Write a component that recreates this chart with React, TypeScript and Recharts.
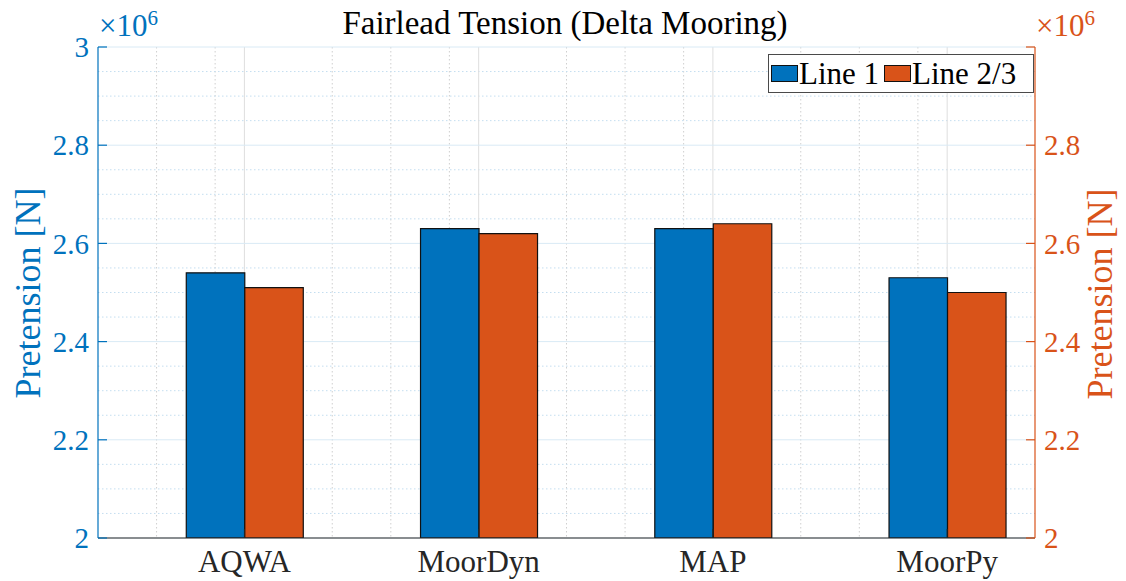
import React from 'react';
import { ComposedChart, Bar, XAxis, YAxis, CartesianGrid } from 'recharts';

const categories = ['AQWA', 'MoorDyn', 'MAP', 'MoorPy'];
const line1 = [2.54e6, 2.63e6, 2.63e6, 2.53e6];
const line23 = [2.51e6, 2.62e6, 2.64e6, 2.5e6];
const yTicks = [2.0e6, 2.2e6, 2.4e6, 2.6e6, 2.8e6, 3.0e6];
const rightTickLabels = [2.0e6, 2.2e6, 2.4e6, 2.6e6, 2.8e6];
const xTicks = [1, 2, 3, 4];
const xMinor = [0.625, 0.875, 1.375, 1.625, 1.875, 2.375, 2.625, 2.875, 3.375, 3.625, 3.875];
const yMinor = [2.05, 2.1, 2.15, 2.25, 2.3, 2.35, 2.45, 2.5, 2.55, 2.65, 2.7, 2.75, 2.85, 2.9, 2.95].map((v) => v * 1e6);

const data = categories.map((name, i) => ({ x: i + 1, name, line1: line1[i], line23: line23[i] }));

const BLUE = '#0072BD';
const ORANGE = '#D95319';
const DARK = '#262626';
const FONT = '"Liberation Serif", "Times New Roman", serif';
const W = 1126;
const H = 581;

const fmt = (v: number) => String(parseFloat((v / 1e6).toFixed(1)));

const LeftTick = (p: any) => {
  const { x, y, payload } = p;
  return (
    <g>
      <line x1={x} x2={x + 9} y1={y} y2={y} stroke={BLUE} strokeWidth={1.2} />
      <text x={x - 9} y={y} dy="0.35em" textAnchor="end" fill={BLUE} fontSize={29} fontFamily={FONT}>
        {fmt(payload.value)}
      </text>
    </g>
  );
};

const RightTick = (p: any) => {
  const { x, y, payload } = p;
  const show = rightTickLabels.includes(payload.value);
  return (
    <g>
      <line x1={x - 9} x2={x} y1={y} y2={y} stroke={ORANGE} strokeWidth={1.2} />
      {show && (
        <text x={x + 9} y={y} dy="0.35em" textAnchor="start" fill={ORANGE} fontSize={29} fontFamily={FONT}>
          {fmt(payload.value)}
        </text>
      )}
    </g>
  );
};

const BottomTick = (p: any) => {
  const { x, y, payload } = p;
  return (
    <g>
      <line x1={x} x2={x} y1={y} y2={y - 9} stroke={DARK} />
      <text x={x} y={y + 23} dy="0.35em" textAnchor="middle" fill={DARK} fontSize={31} fontFamily={FONT}>
        {categories[payload.value - 1]}
      </text>
    </g>
  );
};

const TopTick = (p: any) => {
  const { x, y } = p;
  return <line x1={x} x2={x} y1={y} y2={y + 9} stroke={DARK} strokeWidth={1.2} />;
};

const Exponent = ({ left, color }: { left: number; color: string }) => (
  <div style={{ position: 'absolute', left, top: 8, fontFamily: FONT, fontSize: 31, color, lineHeight: '36px', whiteSpace: 'nowrap' }}>
    ×10<span style={{ fontSize: 21, position: 'relative', top: -11 }}>6</span>
  </div>
);

export default function App() {
  return (
    <div style={{ position: 'absolute', left: 0, top: 0, width: W, height: H, background: '#fff' }}>
      <ComposedChart
        width={W}
        height={H}
        data={data}
        margin={{ top: 47, right: 31, bottom: 3, left: 38 }}
        barGap={0}
      >
        <CartesianGrid
          xAxisId="bottom"
          yAxisId="left"
          horizontal={false}
          vertical={true}
          verticalValues={xMinor}
          stroke="#cfcfcf"
          strokeDasharray="1.5 2.5"
        />
        <CartesianGrid
          xAxisId="bottom"
          yAxisId="left"
          horizontal={true}
          vertical={false}
          horizontalValues={yMinor}
          stroke="#c4def0"
          strokeDasharray="1.5 2.5"
        />
        <CartesianGrid
          xAxisId="bottom"
          yAxisId="left"
          horizontal={false}
          vertical={true}
          verticalValues={xTicks}
          stroke="#dedede"
        />
        <CartesianGrid
          xAxisId="bottom"
          yAxisId="left"
          horizontal={true}
          vertical={false}
          horizontalValues={yTicks}
          stroke="#d9eaf5"
        />
        <XAxis
          xAxisId="bottom"
          dataKey="x"
          type="number"
          domain={[0.375, 4.375]}
          allowDataOverflow
          ticks={xTicks}
          interval={0}
          height={40}
          tickSize={0}
          tickMargin={0}
          tickLine={false}
          axisLine={{ stroke: DARK, strokeWidth: 1.2 }}
          tick={<BottomTick />}
        />
        <XAxis
          xAxisId="top"
          orientation="top"
          dataKey="x"
          type="number"
          domain={[0.375, 4.375]}
          allowDataOverflow
          ticks={xTicks}
          interval={0}
          height={0}
          tickSize={0}
          tickMargin={0}
          tickLine={false}
          axisLine={{ stroke: '#555', strokeWidth: 1.2 }}
          tick={<TopTick />}
        />
        <YAxis
          yAxisId="left"
          orientation="left"
          type="number"
          domain={[2e6, 3e6]}
          allowDataOverflow
          ticks={yTicks}
          interval={0}
          width={60}
          tickSize={0}
          tickMargin={0}
          tickLine={false}
          axisLine={{ stroke: BLUE, strokeWidth: 1.2 }}
          tick={<LeftTick />}
        />
        <YAxis
          yAxisId="right"
          orientation="right"
          type="number"
          domain={[2e6, 3e6]}
          allowDataOverflow
          ticks={yTicks}
          interval={0}
          width={60}
          tickSize={0}
          tickMargin={0}
          tickLine={false}
          axisLine={{ stroke: ORANGE, strokeWidth: 1.2 }}
          tick={<RightTick />}
        />
        <Bar
          xAxisId="bottom"
          yAxisId="left"
          dataKey="line1"
          name="Line 1"
          fill={BLUE}
          stroke="#111"
          strokeWidth={1.2}
          barSize={58.5}
          isAnimationActive={false}
        />
        <Bar
          xAxisId="bottom"
          yAxisId="left"
          dataKey="line23"
          name="Line 2/3"
          fill={ORANGE}
          stroke="#111"
          strokeWidth={1.2}
          barSize={58.5}
          isAnimationActive={false}
        />
      </ComposedChart>

      <div
        style={{
          position: 'absolute', left: 0, width: 1130, top: 4, textAlign: 'center',
          fontFamily: FONT, fontSize: 33, color: '#000', lineHeight: '38px', whiteSpace: 'nowrap',
        }}
      >
        Fairlead Tension (Delta Mooring)
      </div>

      <Exponent left={99} color={BLUE} />
      <Exponent left={1036} color={ORANGE} />

      <div
        style={{
          position: 'absolute', left: 28, top: 293, transform: 'translate(-50%, -50%) rotate(-90deg)',
          fontFamily: FONT, fontSize: 36, color: BLUE, whiteSpace: 'nowrap', lineHeight: '40px',
        }}
      >
        Pretension [N]
      </div>
      <div
        style={{
          position: 'absolute', left: 1100, top: 294, transform: 'translate(-50%, -50%) rotate(-90deg)',
          fontFamily: FONT, fontSize: 36, color: ORANGE, whiteSpace: 'nowrap', lineHeight: '40px',
        }}
      >
        Pretension [N]
      </div>

      <div
        style={{
          position: 'absolute', left: 768, top: 54, width: 266, height: 39, boxSizing: 'border-box',
          border: '1px solid #4a4a4a', background: '#fff', display: 'flex', alignItems: 'center',
          fontFamily: FONT, fontSize: 31, color: '#000', whiteSpace: 'nowrap', paddingLeft: 2,
        }}
      >
        <span style={{ display: 'inline-block', width: 25, height: 15, background: BLUE, border: '1px solid #111', marginRight: 1 }} />
        <span style={{ marginRight: 5 }}>Line 1</span>
        <span style={{ display: 'inline-block', width: 25, height: 15, background: ORANGE, border: '1px solid #111', marginRight: 1 }} />
        <span>Line 2/3</span>
      </div>
    </div>
  );
}
